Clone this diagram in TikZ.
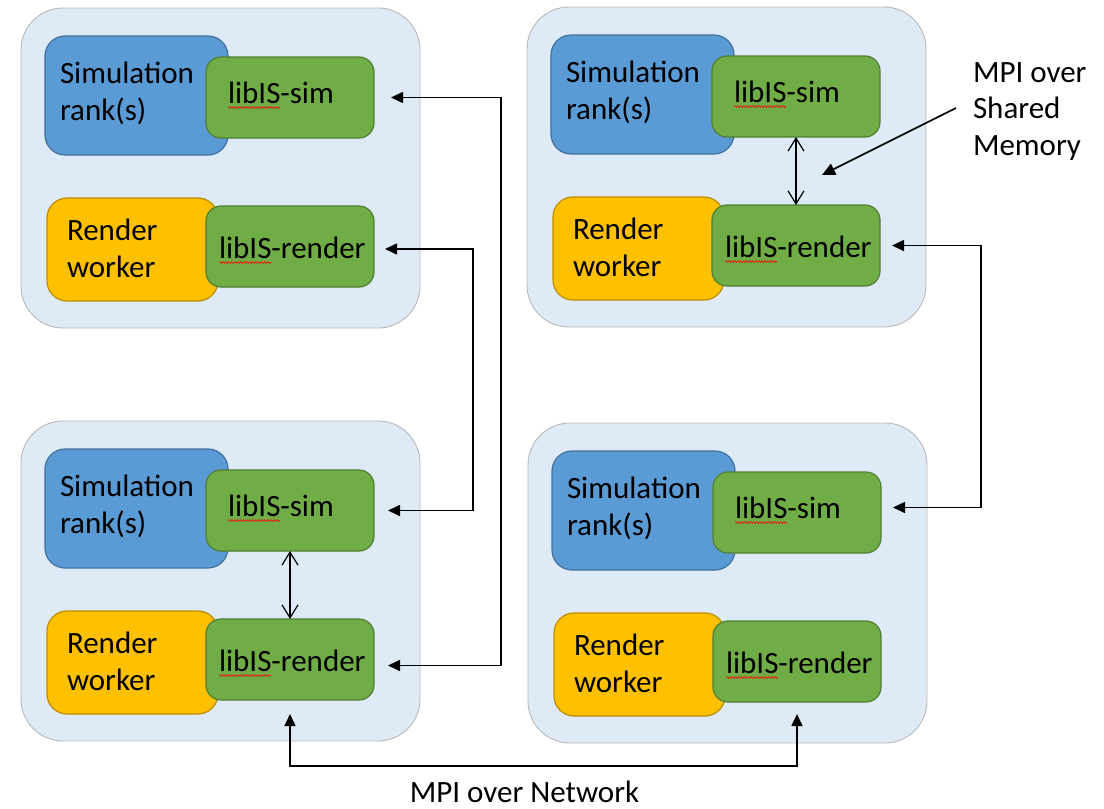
\documentclass[tikz,border=0pt]{standalone}
\usepackage{fontspec}
\setmainfont{Carlito}
\usetikzlibrary{arrows.meta,decorations.pathmorphing}
\definecolor{contfill}{HTML}{DEEBF7}
\definecolor{contline}{HTML}{B8B8B8}
\definecolor{simfill}{HTML}{5B9BD5}
\definecolor{simline}{HTML}{41719C}
\definecolor{libfill}{HTML}{70AD47}
\definecolor{libline}{HTML}{507E32}
\definecolor{renfill}{HTML}{FFC000}
\definecolor{renline}{HTML}{BC8C00}
\tikzset{
  box/.style={rectangle, inner sep=0pt, outer sep=0pt, line width=1.2pt},
  contbox/.style={box, fill=contfill, draw=contline, line width=0.9pt, rounded corners=42pt, minimum width=399pt, minimum height=320pt},
  simbox/.style={box, fill=simfill, draw=simline, rounded corners=20pt, minimum width=183pt, minimum height=119pt},
  libbox/.style={box, fill=libfill, draw=libline, rounded corners=15pt, minimum width=168pt, minimum height=81pt},
  renbox/.style={box, fill=renfill, draw=renline, rounded corners=20pt, minimum width=171pt, minimum height=103pt},
  lbl/.style={anchor=base west, inner sep=0pt, outer sep=0pt, font=\fontsize{31}{37}\selectfont},
  squiggle/.style={draw=red, line width=0.6pt, decorate, decoration={snake, amplitude=0.9pt, segment length=3pt}},
  link/.style={line width=1.6pt, draw=black},
  bothtips/.style={arrows={Triangle[length=12pt,width=11pt]-Triangle[length=12pt,width=11pt]}},
  endtip/.style={arrows={-Triangle[length=13pt,width=12pt]}},
  openboth/.style={line width=1.2pt, arrows={Straight Barb[length=13pt,width=16pt]-Straight Barb[length=13pt,width=16pt]}}
}
\newcommand{\drawcell}[3]{%
  \begin{scope}[shift={(#2,#3)}]
    \node[contbox] (#1-cont) at (199.5,160) {};
    \node[simbox] (#1-sim) at (115.5,87.5) {};
    \node[libbox] (#1-simlib) at (269,89.5) {};
    \node[renbox] (#1-ren) at (111.5,241.5) {};
    \node[libbox] (#1-renlib) at (269,238.5) {};
    \node[lbl] (#1-t1) at (39,75) {Simulation};
    \node[lbl] (#1-t2) at (39,112) {rank(s)};
    \node[lbl] (#1-t3) at (207,95) {libIS-sim};
    \node[lbl] (#1-t4) at (46,232) {Render};
    \node[lbl] (#1-t5) at (46,269) {worker};
    \node[lbl] (#1-t6) at (198,250) {libIS-render};
    \draw[squiggle] (207,99.5) -- ++(52,0);
    \draw[squiggle] (198,254.5) -- ++(52,0);
  \end{scope}}
\begin{document}
\begin{tikzpicture}[x=1pt,y=-1pt]
  \useasboundingbox (0,0) rectangle (1104,809);
  \drawcell{tl}{21}{8}
  \drawcell{tr}{527}{7}
  \drawcell{bl}{21}{421}
  \drawcell{br}{528}{423}
  % inter-node links
  \draw[link, bothtips] ([xshift=17pt]tl-simlib.east) -- ++(110,0) |- ([xshift=14pt,yshift=-6pt]bl-renlib.east);
  \draw[link, bothtips] ([xshift=11pt,yshift=-2.5pt]tl-renlib.east) -- ++(88,0) |- ([xshift=14pt]bl-simlib.east);
  \draw[link, bothtips] ([xshift=12pt]tr-renlib.east) -- ++(89,0) |- ([xshift=12pt,yshift=5pt]br-simlib.east);
  \draw[link, bothtips] ([yshift=-14pt]bl-renlib.south) -- ++(0,52) -| ([yshift=-12pt]br-renlib.south);
  % shared memory links
  \draw[openboth] (tr-simlib.south) -- (tr-renlib.north);
  \draw[openboth] (bl-simlib.south) -- (bl-renlib.north);
  % labels
  \node[lbl] (mpi1) at (973,82) {MPI over};
  \node[lbl] (mpi2) at (973,118) {Shared};
  \node[lbl] (mpi3) at (973,155) {Memory};
  \coordinate (smstart) at (956,108);
  \coordinate (smend) at (822,175);
  \draw[link, endtip] (smstart) -- (smend);
  \node[inner sep=0pt, anchor=base, font=\fontsize{31}{37}\selectfont] (net) at (524.5,802) {MPI over Network};
\end{tikzpicture}
\end{document}
